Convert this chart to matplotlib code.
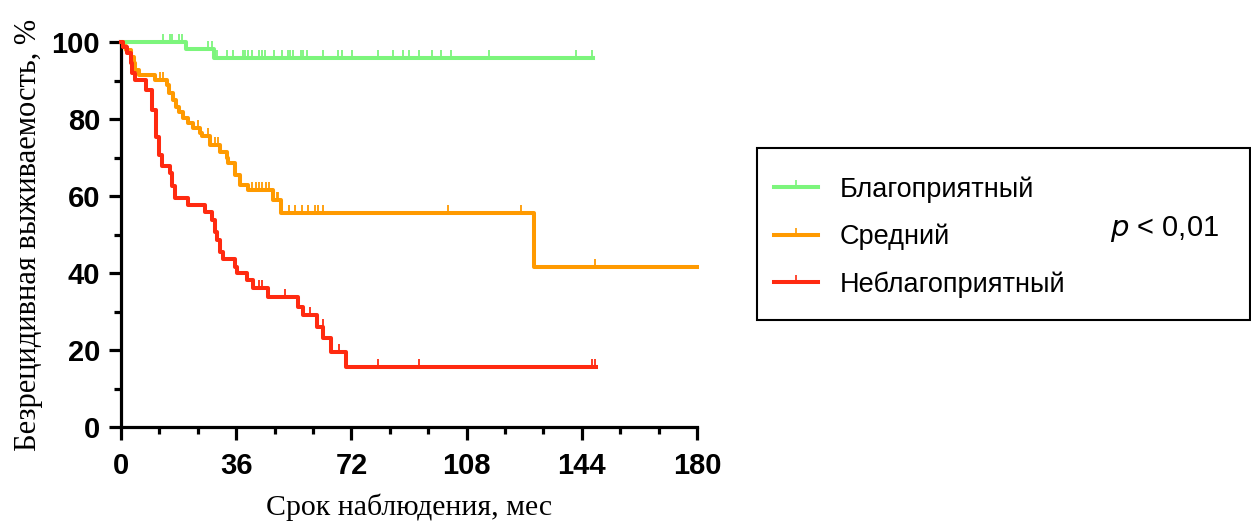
import numpy as np
import matplotlib
matplotlib.use("Agg")
import matplotlib.pyplot as plt
from matplotlib.path import Path
from matplotlib.lines import Line2D
from matplotlib.patches import Rectangle

# Кривые Каплана-Мейера: моменты событий (мес) и уровень после события (%)
good_t = [0, 20.3, 29.0]
good_s = [100, 98.1, 95.9]
good_end = 147.4
good_cens = [13.2, 15.3, 16.1, 18.1, 19.1, 27.1, 28.3, 30.1, 33.1, 35.1, 38.2, 38.9,
             39.8, 41.0, 43.2, 44.1, 45.1, 47.9, 50.2, 52.1, 52.8, 53.8, 56.2, 57.0,
             58.0, 63.2, 67.9, 69.0, 72.1, 80.2, 85.1, 88.0, 90.1, 93.0, 97.1, 100.1,
             103.0, 115.0, 142.1, 147.1]

mid_t = [0, 0.5, 1.5, 3.0, 4.0, 4.5, 5.5, 10.6, 14.3, 15.0, 16.2, 17.2, 18.2, 19.3,
         20.8, 22.5, 24.6, 25.2, 27.8, 30.9, 33.0, 33.5, 35.6, 37.2, 39.8, 47.6, 50.0,
         129.1]
mid_s = [100, 99.0, 97.9, 96.2, 94.5, 92.7, 91.4, 90.1, 88.8, 86.7, 84.9, 83.2, 81.9,
         80.2, 78.9, 77.6, 76.3, 75.6, 73.3, 71.5, 69.8, 68.5, 65.5, 62.9, 61.6, 59.0,
         55.5, 41.6]
mid_end = 180
mid_cens = [12.2, 13.2, 24.2, 27.3, 29.4, 30.2, 41.0, 42.1, 43.1, 44.2, 45.2, 46.3,
            48.6, 49.2, 52.6, 54.4, 56.5, 58.5, 60.6, 61.7, 63.2, 102.1, 125.0, 148.1]

bad_t = [0, 0.6, 1.8, 3.2, 3.6, 4.3, 7.9, 9.8, 11.0, 11.9, 12.7, 15.3, 16.1, 16.9,
         21.0, 26.3, 28.3, 29.4, 30.1, 30.9, 32.0, 35.6, 36.1, 39.3, 41.4, 46.0, 55.4,
         57.0, 61.1, 63.2, 65.5, 70.4]
bad_s = [100, 98.8, 97.1, 94.5, 91.9, 90.1, 87.5, 82.3, 75.4, 70.7, 67.7, 65.9, 62.5,
         59.4, 57.7, 55.9, 53.8, 50.7, 48.6, 45.5, 43.6, 41.6, 39.9, 38.2, 36.0, 33.7,
         31.2, 29.1, 26.1, 23.0, 19.6, 15.7]
bad_end = 148.3
bad_cens = [43.2, 44.1, 51.3, 59.1, 63.0, 68.0, 80.2, 93.1, 147.1, 148.1]

labels = ["Благоприятный", "Средний", "Неблагоприятный"]
colors = ["#7CF57C", "#FF9A00", "#FF2A10"]

tick_mark = Path([(0, 0), (0, 1)], [Path.MOVETO, Path.LINETO])

fig = plt.figure(figsize=(12.51, 5.24), dpi=100)
ax = fig.add_axes([0.0967, 0.1851, 0.4605, 0.7347])

groups = [(good_t, good_s, good_end, good_cens),
          (mid_t, mid_s, mid_end, mid_cens),
          (bad_t, bad_s, bad_end, bad_cens)]

for (t, s, end, cens), col in zip(groups, colors):
    tt = list(t) + [end]
    ss = list(s) + [s[-1]]
    ax.step(tt, ss, where="post", color=col, lw=2.9, clip_on=False, zorder=3)
    idx = np.searchsorted(t, cens, side="right") - 1
    ax.plot(cens, np.array(s)[idx], linestyle="none", marker=tick_mark,
            markersize=12, mew=1.3, color=col, clip_on=False, zorder=3)

ax.set_xlim(0, 180)
ax.set_ylim(0, 100)
ax.set_xticks([0, 36, 72, 108, 144, 180])
ax.set_xticks(np.arange(12, 180, 12), minor=True)
ax.set_yticks([0, 20, 40, 60, 80, 100])
ax.set_yticks([10, 30, 50, 70, 90], minor=True)

for side in ["top", "right"]:
    ax.spines[side].set_visible(False)
for side in ["left", "bottom"]:
    ax.spines[side].set_linewidth(2.3)

ax.tick_params(which="major", length=9, width=2.3, labelsize=21, pad=6)
ax.tick_params(which="minor", length=5, width=2.3)
ax.tick_params(axis="x", which="major", pad=9)
for lab in ax.get_xticklabels() + ax.get_yticklabels():
    lab.set_fontweight("bold")
    lab.set_family("Liberation Sans")

ax.set_xlabel("Срок наблюдения, мес", family="Liberation Serif", fontsize=21.5,
              va="center")
ax.xaxis.set_label_coords(0.5, -0.208)
ax.set_ylabel("Безрецидивная выживаемость, %", family="Liberation Serif", fontsize=22, labelpad=6)

# рамка легенды
fig.patches.append(Rectangle((757 / 1251, 1 - 320 / 524), 493 / 1251, 172 / 524,
                             transform=fig.transFigure, fill=False, lw=1.5,
                             edgecolor="black"))

handles = [Line2D([], [], color=c, lw=2.9, marker=tick_mark, markersize=10, mew=1.2)
           for c in colors]
fig.legend(handles, labels, loc="upper left", bbox_to_anchor=(750 / 1251, 1 - 152 / 524),
           frameon=False, prop={"family": "Liberation Sans", "size": 19.5},
           handlelength=1.6, handletextpad=0.8, labelspacing=0.77)

fig.text(1110 / 1251, 1 - 229 / 524, "$\\it{p}$ < 0,01", family="Liberation Sans",
         fontsize=21, va="center", ha="left")

fig.savefig("out.png", dpi=100)
